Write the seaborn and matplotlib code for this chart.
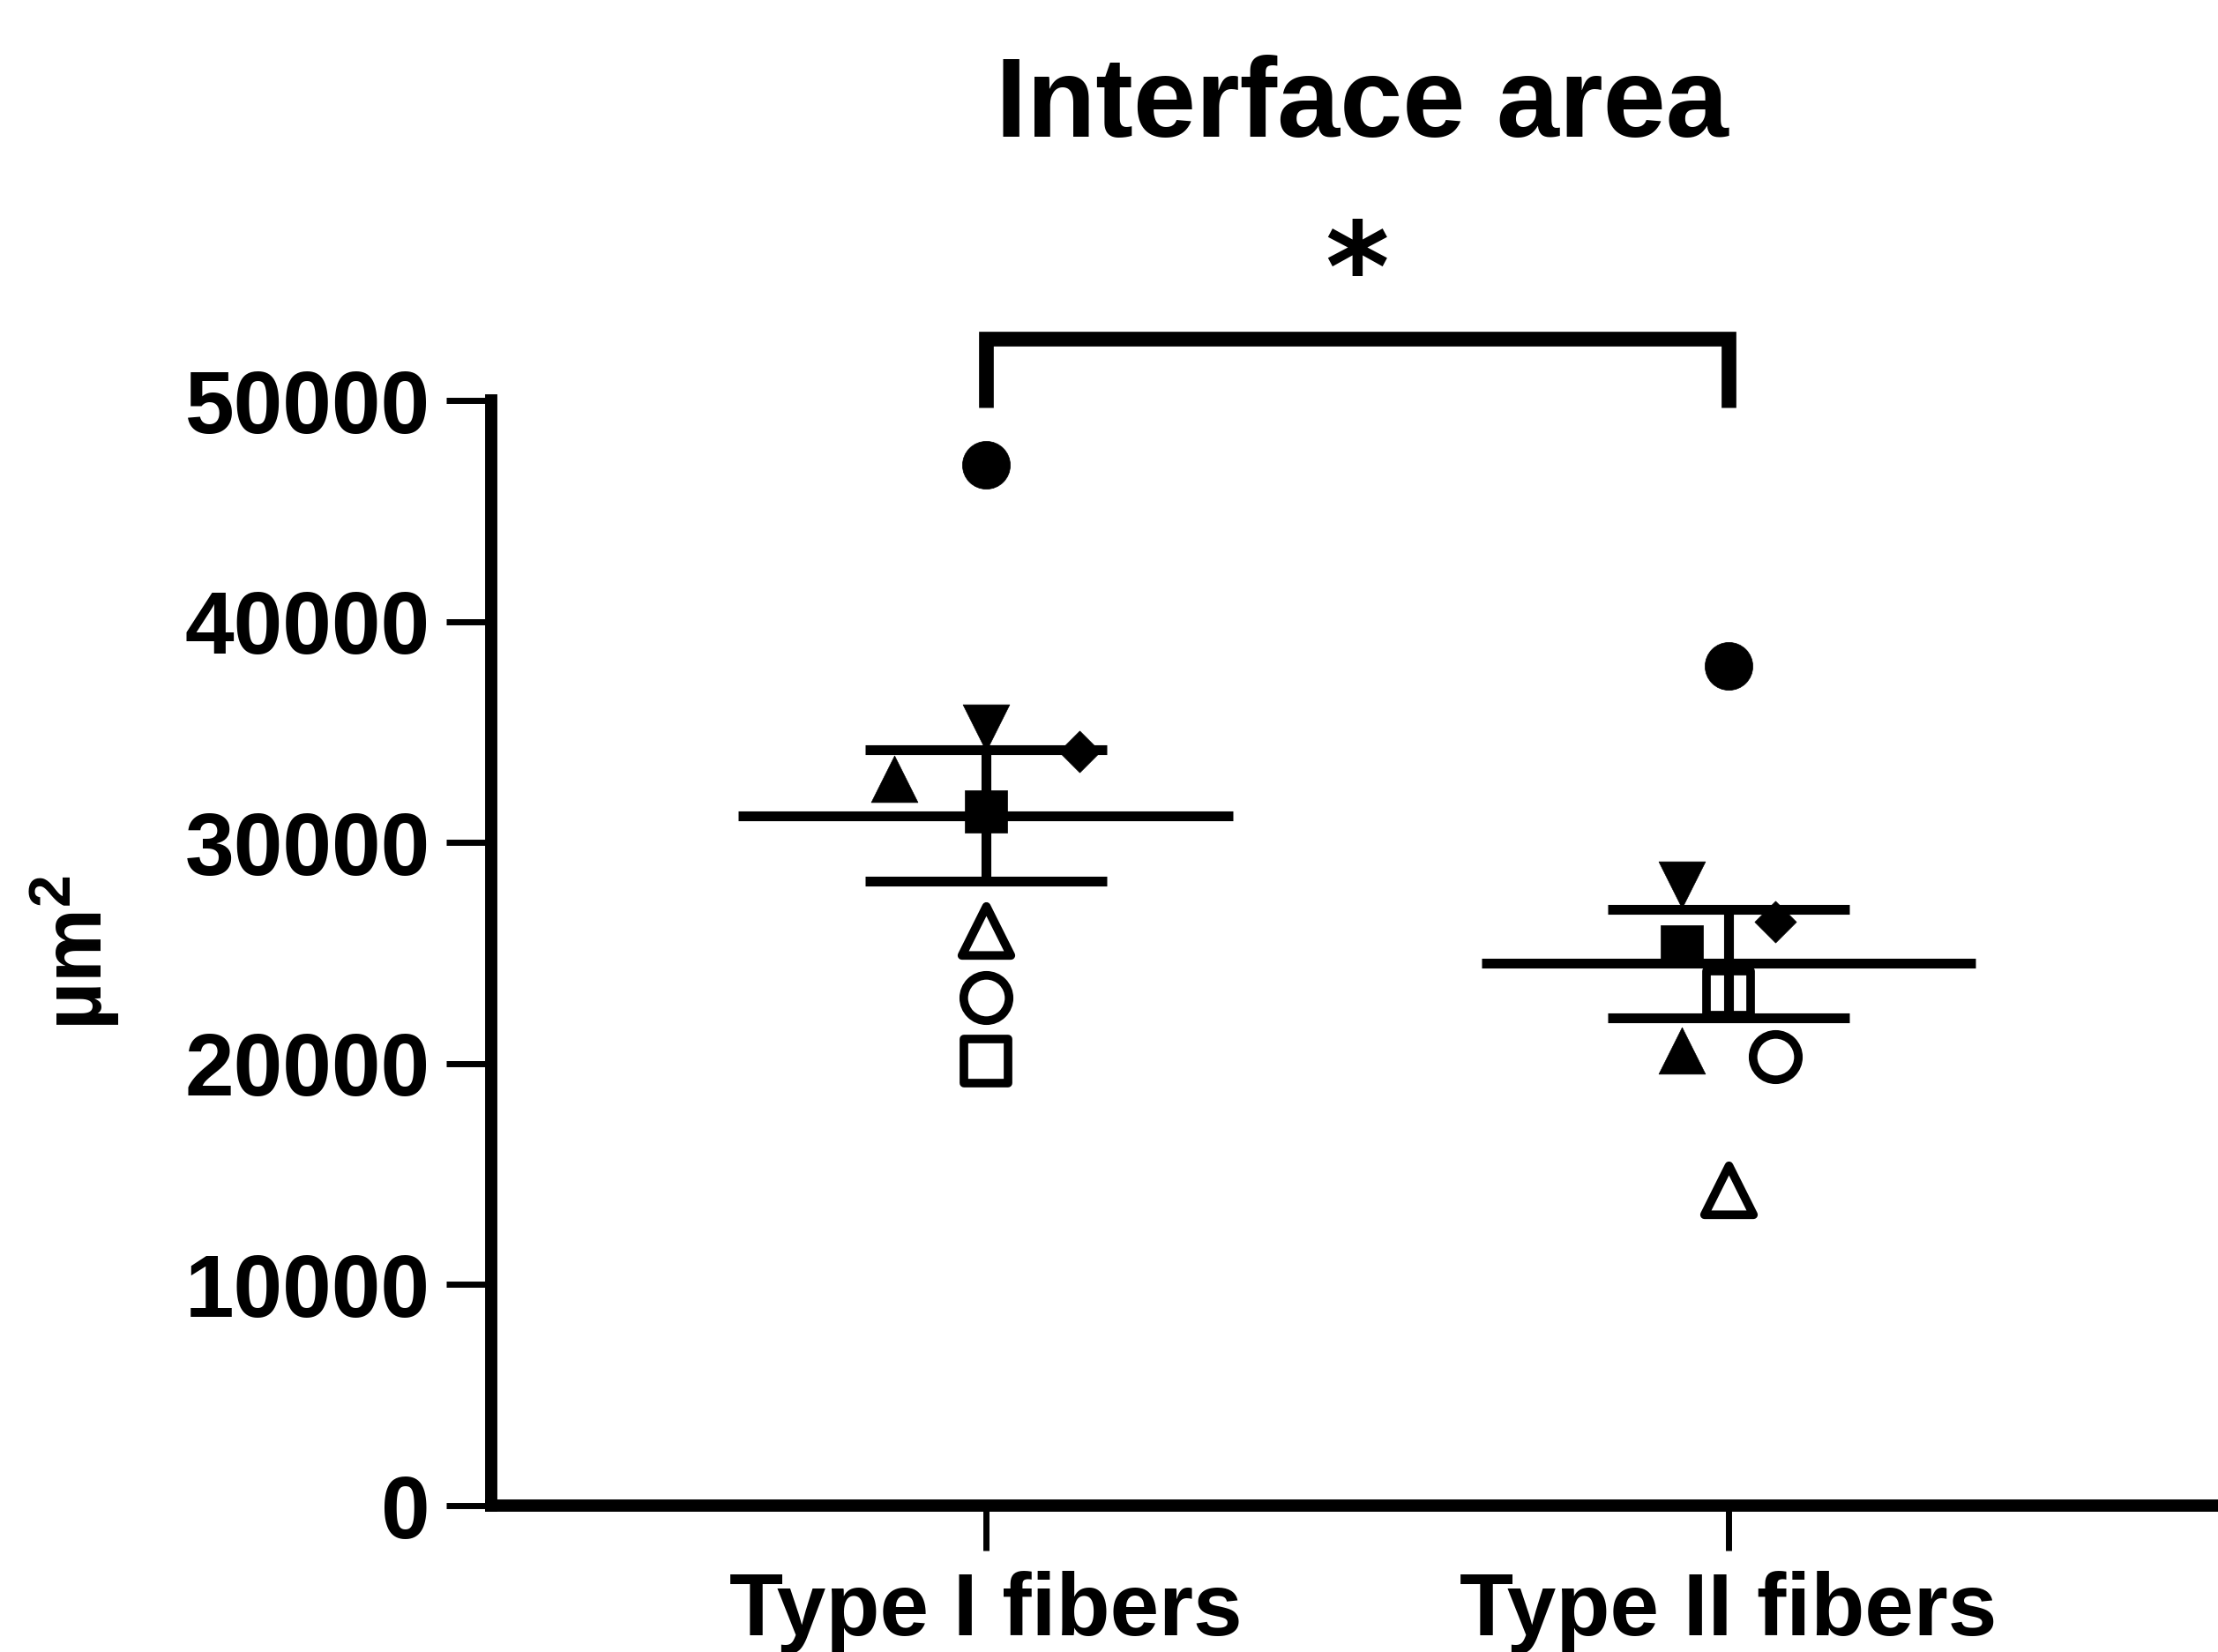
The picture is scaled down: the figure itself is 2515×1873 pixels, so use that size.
import numpy as np
import pandas as pd
import matplotlib
matplotlib.use("Agg")
import matplotlib.pyplot as plt
import seaborn as sns

# data
groups = ["Type I fibers", "Type II fibers"]
subjects = ["S1", "S2", "S3", "S4", "S5", "S6", "S7", "S8"]
type1_values = [47100, 35200, 34100, 32900, 31400, 26000, 23000, 20100]
type2_values = [38000, 28100, 26400, 20600, 25300, 14300, 20300, 23200]
y_ticks = [0, 10000, 20000, 30000, 40000, 50000]
title = "Interface area"
y_label = "µm$^2$"
sig_label = "*"

# styles (GraphPad-like symbol per subject)
sym_marker = {"S1": "o", "S2": "v", "S3": "D", "S4": "^",
              "S5": "s", "S6": "^", "S7": "o", "S8": "s"}
sym_filled = {"S1": True, "S2": True, "S3": True, "S4": True,
              "S5": True, "S6": False, "S7": False, "S8": False}
sym_size = {"S1": 39, "S2": 38, "S3": 24, "S4": 38,
            "S5": 35, "S6": 40, "S7": 37, "S8": 36}
# horizontal scatter of overlapping symbols (layout only)
jitter = {
    "Type I fibers": {"S3": 0.126, "S4": -0.124},
    "Type II fibers": {"S2": -0.063, "S3": 0.063, "S4": -0.063,
                       "S5": -0.063, "S7": 0.063},
}

df = pd.DataFrame({
    "group": np.repeat(groups, len(subjects)),
    "subject": subjects * 2,
    "value": type1_values + type2_values,
})
df["gx"] = df["group"].map({g: i for i, g in enumerate(groups)})
df["x"] = df["gx"] + [jitter[g].get(s, 0.0) for g, s in zip(df["group"], df["subject"])]

sns.set_style("ticks")
plt.rcParams["font.family"] = ["Liberation Sans", "DejaVu Sans"]
plt.rcParams["font.weight"] = "bold"
plt.rcParams["text.color"] = "black"
plt.rcParams["axes.labelcolor"] = "black"
plt.rcParams["mathtext.fontset"] = "custom"
plt.rcParams["mathtext.rm"] = "Liberation Sans:bold"
plt.rcParams["mathtext.it"] = "Liberation Sans:bold"
plt.rcParams["mathtext.bf"] = "Liberation Sans:bold"

fig = plt.figure(figsize=(25.15, 18.73), dpi=100)
ax = fig.add_axes([0.2215, 0.0886, 0.7785, 0.669])

for s in subjects:
    sub = df[df["subject"] == s]
    filled = sym_filled[s]
    sns.scatterplot(data=sub, x="x", y="value", ax=ax,
                    marker=sym_marker[s], s=sym_size[s] ** 2,
                    color="black" if filled else "white",
                    edgecolor="black", linewidth=0.5 if filled else 7,
                    legend=False, zorder=3, clip_on=False)

# mean and SEM
stats = df.groupby("gx")["value"].agg(["mean", "sem"])
for gx, row in stats.iterrows():
    ax.hlines(row["mean"], gx - 0.333, gx + 0.333, color="black", lw=8, zorder=4)
    ax.hlines([row["mean"] - row["sem"], row["mean"] + row["sem"]],
              gx - 0.163, gx + 0.163, color="black", lw=8, zorder=4)
    ax.vlines(gx, row["mean"] - row["sem"], row["mean"] + row["sem"],
              color="black", lw=8, zorder=4)

# significance bracket
ax.plot([0, 0, 1, 1], [49700, 52800, 52800, 49700], color="black", lw=12,
        clip_on=False, solid_joinstyle="miter", solid_capstyle="butt")
ax.text(0.5, 52900, sig_label, ha="center", va="bottom", fontsize=100,
        fontweight="bold", family=["DejaVu Sans"])

ax.set_xlim(-0.666, 1.659)
ax.set_ylim(0, 50000)
ax.set_yticks(y_ticks)
ax.set_yticklabels([str(v) for v in y_ticks], fontsize=72, fontweight="bold")
ax.set_xticks(range(len(groups)))
ax.set_xticklabels(groups, fontsize=72, fontweight="bold")
ax.set_xlabel("")
ax.set_ylabel(y_label, fontsize=68, fontweight="bold")
ax.yaxis.set_label_coords(-0.214, 0.5)

sns.despine(ax=ax)
for side in ["left", "bottom"]:
    ax.spines[side].set_linewidth(10)
    ax.spines[side].set_color("black")
ax.tick_params(axis="both", length=37, width=5, color="black", labelcolor="black")
ax.tick_params(axis="y", pad=13)
ax.tick_params(axis="x", pad=16)

fig.text(0.614, 0.917, title, ha="center", va="baseline", fontsize=92, fontweight="bold")

fig.savefig("out.png", dpi=100, facecolor="white")
